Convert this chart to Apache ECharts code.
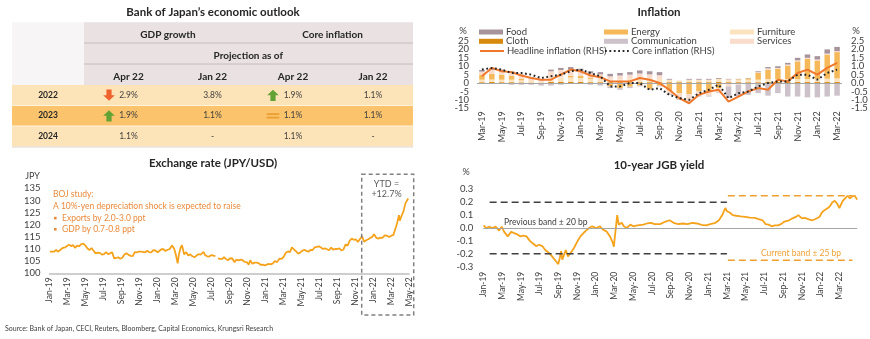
<!DOCTYPE html>
<html><head><meta charset="utf-8">
<script src="https://cdn.jsdelivr.net/npm/echarts/dist/echarts.min.js"></script>
<style>html,body{margin:0;padding:0;background:#fff}#c{width:870px;height:339px}</style>
</head><body><div id="c"></div>
<script>
const FONT = 'Lato, "Open Sans", sans-serif';

// ---------- Table: Bank of Japan's economic outlook ----------
const tableYears = ['2022', '2023', '2024'];
const gdpApr22 = ['2.9%', '1.9%', '1.1%'];
const gdpJan22 = ['3.8%', '1.1%', '-'];
const coreApr22 = ['1.9%', '1.1%', '1.1%'];
const coreJan22 = ['1.1%', '1.1%', '-'];
const gdpAprSignal = ['down', 'up', null];
const coreAprSignal = ['up', 'equal', null];

// ---------- Inflation ----------
const inflMonths = ['Mar-19','Apr-19','May-19','Jun-19','Jul-19','Aug-19','Sep-19','Oct-19','Nov-19','Dec-19','Jan-20','Feb-20','Mar-20','Apr-20','May-20','Jun-20','Jul-20','Aug-20','Sep-20','Oct-20','Nov-20','Dec-20','Jan-21','Feb-21','Mar-21','Apr-21','May-21','Jun-21','Jul-21','Aug-21','Sep-21','Oct-21','Nov-21','Dec-21','Jan-22','Feb-22','Mar-22'];
const inflLeftTicks = [-15, -10, -5, 0, 5, 10, 15, 20, 25];
const inflRightTicks = [-1.5, -1.0, -0.5, 0.0, 0.5, 1.0, 1.5, 2.0, 2.5];
const food = [1.0,1.2,1.0,0.8,0.8,0.5,0.3,1.0,1.2,1.5,1.3,1.2,1.3,1.5,1.5,1.5,1.8,1.8,1.8,0.5,0.0,0.5,0.5,0.5,0.5,0.3,0.2,0.2,0.5,0.8,1.0,1.0,1.5,2.0,2.0,2.5,2.5];
const energy = [3.0,3.5,3.0,2.2,0.8,0.2,-0.5,-0.5,0.0,1.0,1.5,0.8,-0.5,-2.0,-3.0,-2.2,-1.5,-3.5,-1.5,-4.5,-6.0,-6.5,-5.0,-5.0,-3.0,-0.5,0.3,0.8,4.0,5.5,6.0,8.0,10.5,12.0,11.0,14.3,15.6];
const furniture = [1.5,1.5,1.5,1.5,1.2,1.0,0.6,2.5,2.5,2.5,2.2,2.0,2.0,1.5,1.8,2.0,2.2,2.2,2.0,1.5,1.0,1.5,1.5,1.5,1.8,1.7,1.5,1.5,1.5,1.8,1.8,1.8,1.8,1.8,1.8,2.0,2.2];
const cloth = [0.5,0.6,0.5,0.5,0.4,0.3,0.2,0.8,0.8,0.8,0.7,0.5,0.5,0.5,0.5,0.5,0.5,0.5,0.5,0.5,0.5,0.5,0.5,0.5,0.7,0.5,0.5,0.5,0.5,0.6,0.6,0.6,0.6,0.6,0.6,0.6,0.6];
const communication = [-0.5,-0.3,-0.5,-1.0,-1.0,-1.0,-1.0,-1.0,-1.0,-0.5,-0.5,-1.0,-1.0,-1.0,-1.0,-0.8,-0.5,-0.5,-0.5,-0.5,-0.5,-0.5,-0.5,-0.5,-0.5,-7.0,-7.0,-7.0,-6.0,-7.5,-6.0,-8.0,-8.0,-8.5,-8.5,-8.0,-7.5];
const services = [1.8,2.2,2.0,2.0,1.8,1.3,0.9,3.7,4.5,3.7,2.8,2.5,2.7,2.0,2.2,2.5,3.0,2.5,2.2,-2.0,-3.5,-4.0,-2.5,-2.5,-2.5,-1.5,-1.0,0.0,0.5,0.8,0.6,0.6,0.6,0.6,0.6,0.6,0.6];
const headline = [0.4,0.9,0.7,0.65,0.45,0.3,0.2,0.2,0.5,0.8,0.7,0.45,0.35,0.1,0.1,0.1,0.3,0.2,0.0,-0.4,-0.9,-1.2,-0.7,-0.5,-0.4,-1.1,-0.8,-0.5,-0.3,-0.4,0.2,0.1,0.6,0.8,0.5,0.9,1.2];
const coreInfl = [0.8,0.9,0.8,0.6,0.6,0.5,0.3,0.4,0.5,0.7,0.8,0.6,0.4,-0.2,-0.2,0.0,0.0,-0.4,-0.3,-0.7,-0.9,-1.0,-0.6,-0.4,-0.1,-0.9,-0.6,-0.5,-0.2,0.0,0.1,0.1,0.5,0.5,0.2,0.6,0.8];

// ---------- Exchange rate ----------
const fxTicks = ['Jan-19','Mar-19','May-19','Jul-19','Sep-19','Nov-19','Jan-20','Mar-20','May-20','Jul-20','Sep-20','Nov-20','Jan-21','Mar-21','May-21','Jul-21','Sep-21','Nov-21','Jan-22','Mar-22','May-22'];
const fxYTicks = [100, 105, 110, 115, 120, 125, 130, 135];
const fxDates = ['2019-01-02','2019-01-08','2019-01-16','2019-01-24','2019-01-31','2019-02-08','2019-02-15','2019-02-22','2019-02-28','2019-03-06','2019-03-13','2019-03-20','2019-03-27','2019-04-03','2019-04-10','2019-04-17','2019-04-24','2019-05-01','2019-05-08','2019-05-15','2019-05-22','2019-05-29','2019-06-05','2019-06-12','2019-06-19','2019-06-26','2019-07-03','2019-07-10','2019-07-17','2019-07-24','2019-07-31','2019-08-07','2019-08-14','2019-08-21','2019-08-28','2019-09-04','2019-09-11','2019-09-18','2019-09-25','2019-10-02','2019-10-09','2019-10-16','2019-10-23','2019-10-30','2019-11-06','2019-11-13','2019-11-20','2019-11-27','2019-12-04','2019-12-11','2019-12-18','2019-12-25','2020-01-02','2020-01-08','2020-01-15','2020-01-22','2020-01-29','2020-02-05','2020-02-12','2020-02-19','2020-02-21','2020-02-26','2020-03-03','2020-03-09','2020-03-13','2020-03-19','2020-03-24','2020-03-31','2020-04-07','2020-04-14','2020-04-21','2020-04-28','2020-05-05','2020-05-12','2020-05-19','2020-05-26','2020-06-05','2020-06-10','2020-06-17','2020-06-24','2020-07-01','2020-07-08','2020-07-15','2020-07-20','2020-07-24','2020-07-31','2020-08-07','2020-08-14','2020-08-21','2020-08-28','2020-09-04','2020-09-11','2020-09-18','2020-09-25','2020-10-02','2020-10-09','2020-10-16','2020-10-23','2020-10-30','2020-11-06','2020-11-11','2020-11-18','2020-11-25','2020-12-02','2020-12-09','2020-12-16','2020-12-23','2020-12-31','2021-01-06','2021-01-13','2021-01-20','2021-01-27','2021-02-03','2021-02-10','2021-02-17','2021-02-24','2021-03-03','2021-03-10','2021-03-17','2021-03-24','2021-03-31','2021-04-07','2021-04-14','2021-04-21','2021-04-28','2021-05-05','2021-05-12','2021-05-19','2021-05-26','2021-06-02','2021-06-09','2021-06-16','2021-06-23','2021-06-30','2021-07-07','2021-07-14','2021-07-21','2021-07-28','2021-08-04','2021-08-11','2021-08-18','2021-08-25','2021-09-01','2021-09-08','2021-09-15','2021-09-22','2021-09-29','2021-10-06','2021-10-13','2021-10-20','2021-10-27','2021-11-03','2021-11-10','2021-11-17','2021-11-24','2021-12-01','2021-12-08','2021-12-15','2021-12-22','2021-12-29','2022-01-04','2022-01-12','2022-01-19','2022-01-26','2022-02-02','2022-02-09','2022-02-16','2022-02-23','2022-03-02','2022-03-09','2022-03-14','2022-03-18','2022-03-22','2022-03-28','2022-03-31','2022-04-06','2022-04-12','2022-04-19','2022-04-22','2022-04-28'];
const fxRates = [108.9,108.7,108.9,109.6,108.9,109.8,110.5,110.7,111.4,111.8,111.2,111.6,110.5,111.4,111.1,112.0,112.2,111.4,110.2,109.6,110.4,109.3,108.2,108.5,108.4,107.7,107.9,108.7,107.9,108.2,108.7,106.1,106.3,106.6,106.0,106.4,107.7,108.3,107.6,107.2,107.1,108.7,108.6,108.9,108.9,108.8,108.6,109.3,108.7,108.6,109.5,109.4,108.7,108.5,109.9,109.9,109.2,109.7,110.0,111.5,112.2,110.2,107.5,104.1,107.6,110.5,111.6,107.8,108.7,107.3,107.8,107.0,106.6,107.3,107.9,107.7,108.8,107.5,107.0,106.9,107.5,107.3,107.1,'-',106.1,105.9,105.9,106.6,105.8,105.4,106.2,106.1,104.6,105.6,105.3,105.6,105.4,104.7,104.6,103.6,105.4,103.9,104.4,104.4,104.2,103.5,103.6,103.3,103.6,103.9,103.7,104.1,105.0,104.6,106.0,105.9,106.9,108.5,109.0,108.7,110.7,109.8,109.0,108.1,108.6,109.3,109.7,109.2,108.9,109.6,109.6,110.7,110.9,111.1,110.6,110.0,110.3,109.9,109.5,110.6,109.8,110.0,110.0,110.3,109.4,109.8,111.9,111.4,113.4,114.3,113.8,114.0,112.9,114.1,115.2,113.0,113.6,114.0,114.5,115.0,116.1,114.6,114.3,114.7,114.6,115.6,115.5,114.9,115.5,115.8,117.7,119.2,120.8,123.9,121.7,123.7,125.4,128.9,128.5,130.8];

// ---------- 10-year JGB yield ----------
const jgbTicks = ['Jan-19','Mar-19','May-19','Jul-19','Sep-19','Nov-19','Jan-20','Mar-20','May-20','Jul-20','Sep-20','Nov-20','Jan-21','Mar-21','May-21','Jul-21','Sep-21','Nov-21','Jan-22','Mar-22'];
const jgbYTicks = [-0.3, -0.2, -0.1, 0.0, 0.1, 0.2, 0.3];
const jgbDates = ['2019-01-02','2019-01-10','2019-01-20','2019-01-31','2019-02-10','2019-02-20','2019-02-28','2019-03-08','2019-03-20','2019-03-31','2019-04-10','2019-04-20','2019-04-30','2019-05-10','2019-05-20','2019-05-31','2019-06-10','2019-06-20','2019-06-30','2019-07-10','2019-07-20','2019-07-31','2019-08-08','2019-08-15','2019-08-25','2019-09-01','2019-09-06','2019-09-10','2019-09-14','2019-09-25','2019-10-02','2019-10-12','2019-10-22','2019-11-03','2019-11-12','2019-11-27','2019-12-10','2019-12-20','2020-01-03','2020-01-15','2020-01-25','2020-02-05','2020-02-16','2020-02-25','2020-02-28','2020-03-04','2020-03-10','2020-03-15','2020-03-25','2020-04-01','2020-04-10','2020-04-22','2020-05-01','2020-05-15','2020-06-03','2020-06-15','2020-06-28','2020-07-10','2020-07-28','2020-08-15','2020-08-28','2020-09-10','2020-09-25','2020-10-10','2020-10-25','2020-11-10','2020-11-25','2020-12-10','2020-12-25','2021-01-08','2021-01-25','2021-02-05','2021-02-15','2021-02-24','2021-03-01','2021-03-10','2021-03-20','2021-04-01','2021-04-15','2021-04-30','2021-05-15','2021-05-31','2021-06-10','2021-06-25','2021-07-05','2021-07-15','2021-07-25','2021-08-05','2021-08-15','2021-08-25','2021-09-05','2021-09-20','2021-10-01','2021-10-12','2021-10-20','2021-11-01','2021-11-10','2021-11-25','2021-12-05','2021-12-15','2021-12-28','2022-01-05','2022-01-15','2022-01-25','2022-02-01','2022-02-08','2022-02-15','2022-02-22','2022-03-01','2022-03-05','2022-03-12','2022-03-20','2022-03-28','2022-04-05','2022-04-12','2022-04-20','2022-04-28'];
const jgbYield = [0.02,0.0,0.01,0.0,0.01,-0.02,0.01,-0.03,-0.065,-0.03,-0.04,-0.05,-0.065,-0.06,-0.065,-0.10,-0.12,-0.14,-0.13,-0.14,-0.17,-0.19,-0.21,-0.23,-0.26,-0.28,-0.23,-0.18,-0.245,-0.17,-0.22,-0.19,-0.155,-0.10,-0.065,-0.026,0.0,0.013,0.0,0.013,-0.013,-0.026,-0.065,-0.116,-0.145,-0.03,0.10,0.026,0.04,0.013,0.0,0.026,0.013,0.02,0.026,0.035,0.04,0.03,0.03,0.05,0.06,0.04,0.03,0.035,0.03,0.04,0.035,0.025,0.02,0.03,0.04,0.06,0.10,0.155,0.13,0.12,0.10,0.095,0.09,0.086,0.08,0.078,0.07,0.06,0.03,0.026,0.013,0.02,0.02,0.03,0.05,0.06,0.075,0.086,0.10,0.075,0.078,0.065,0.06,0.07,0.085,0.12,0.14,0.155,0.17,0.20,0.21,0.19,0.155,0.17,0.21,0.23,0.25,0.23,0.245,0.25,0.22];
const prevBand = 0.20, prevBandFrom = '2019-01-22', prevBandTo = '2021-03-01';
const curBand = 0.25, curBandFrom = '2021-03-04', curBandTo = '2022-04-13';

// month index since Jan 2019 (the value axes are indexed in months)
function mi(s) {
  const p = s.split('-').map(Number);
  const dim = new Date(p[0], p[1], 0).getDate();
  return (p[0] - 2019) * 12 + (p[1] - 1) + (p[2] - 1) / dim;
}
const monthIdx = function (arr) { return arr.map(function (_, i) { return i * 2; }); };

// ---------- graphic helpers ----------
const G = [];
function txt(x, y, text, size, opt) {
  opt = opt || {};
  G.push({ type: 'text', x: x, y: y, silent: true, z: 10,
    style: { text: text, font: (opt.bold ? 'bold ' : '') + size + 'px ' + FONT,
      fill: opt.color || '#262626', align: opt.align || 'center', verticalAlign: 'middle' } });
}
function rect(x, y, w, h, fill, extra) {
  G.push(Object.assign({ type: 'rect', silent: true, shape: { x: x, y: y, width: w, height: h }, style: { fill: fill } }, extra || {}));
}
function hline(x1, x2, y, color, w) {
  G.push({ type: 'line', silent: true, shape: { x1: x1, y1: y, x2: x2, y2: y }, style: { stroke: color, lineWidth: w || 1 } });
}
function arrow(cx, yt, yb, dir, color) {
  const hw = 5.8, sw = 2.6, hh = 5.5;
  let pts;
  if (dir === 'up') pts = [[cx, yt], [cx + hw, yt + hh], [cx + sw, yt + hh], [cx + sw, yb], [cx - sw, yb], [cx - sw, yt + hh], [cx - hw, yt + hh]];
  else pts = [[cx, yb], [cx + hw, yb - hh], [cx + sw, yb - hh], [cx + sw, yt], [cx - sw, yt], [cx - sw, yb - hh], [cx - hw, yb - hh]];
  G.push({ type: 'polygon', silent: true, shape: { points: pts }, style: { fill: color } });
}

// Table layout
const tx0 = 12, txh = 84, tx1 = 413;
const rowEdges = [22.3, 43, 64, 85, 105.5, 126, 146.5];
const colX = { year: 48, gdpApr: 128.5, gdpJan: 212.5, coreApr: 293, coreJan: 373 };
rect(tx0, rowEdges[0], txh - tx0, rowEdges[3] - rowEdges[0], '#f7f5f5');
rect(txh, rowEdges[0], tx1 - txh, rowEdges[3] - rowEdges[0], '#e9e1e2');
hline(txh, tx1, rowEdges[1], '#c6bcbe', 1);
hline(txh, tx1, rowEdges[2], '#c6bcbe', 1);
const rowFill = ['#fde4b8', '#fbc46c', '#fde4b8'];
for (let i = 0; i < 3; i++) rect(tx0, rowEdges[3 + i], tx1 - tx0, rowEdges[4 + i] - rowEdges[3 + i], rowFill[i]);
hline(tx0, tx1, rowEdges[4], '#fff3dc', 1);
hline(tx0, tx1, rowEdges[5], '#fff3dc', 1);
hline(tx0, tx1, rowEdges[6] + 0.5, '#dcd6d0', 1);

txt(213, 12, 'Bank of Japan\u2019s economic outlook', 11.5, { bold: true });
txt(168, 34.3, 'GDP growth', 10, { bold: true });
txt(332.5, 34.3, 'Core inflation', 10, { bold: true });
txt(248.3, 55.3, 'Projection as of', 10, { bold: true });
txt(colX.gdpApr, 76.3, 'Apr 22', 10, { bold: true });
txt(colX.gdpJan, 76.3, 'Jan 22', 10, { bold: true });
txt(colX.coreApr, 76.3, 'Apr 22', 10, { bold: true });
txt(colX.coreJan, 76.3, 'Jan 22', 10, { bold: true });
for (let i = 0; i < 3; i++) {
  const yc = (rowEdges[3 + i] + rowEdges[4 + i]) / 2;
  txt(colX.year, yc, tableYears[i], 8.5, { bold: true });
  txt(colX.gdpApr, yc, gdpApr22[i], 8.5, { color: '#404040' });
  txt(colX.gdpJan, yc, gdpJan22[i], 8.5, { color: '#404040' });
  txt(colX.coreApr, yc, coreApr22[i], 8.5, { color: '#404040' });
  txt(colX.coreJan, yc, coreJan22[i], 8.5, { color: '#404040' });
  [[gdpAprSignal[i], 109], [coreAprSignal[i], 273]].forEach(function (s) {
    if (s[0] === 'up') arrow(s[1], yc - 5.6, yc + 5.8, 'up', '#63a234');
    else if (s[0] === 'down') arrow(s[1], yc - 5.8, yc + 5.6, 'down', '#f0622d');
    else if (s[0] === 'equal') { rect(s[1] - 6.3, yc - 2.6, 12.6, 1.9, '#eba034'); rect(s[1] - 6.3, yc + 0.9, 12.6, 1.9, '#eba034'); }
  });
}

// Chart titles & annotations
txt(659, 12, 'Inflation', 11.5, { bold: true });
txt(463, 31, '%', 9.5, { color: '#404040' });
txt(856, 31, '%', 9.5, { color: '#404040' });
txt(213, 162.8, 'Exchange rate (JPY/USD)', 11.5, { bold: true });
txt(32.5, 176, 'JPY', 9, { color: '#404040' });
txt(659, 165, '10-year JGB yield', 11.5, { bold: true });
txt(466, 172.5, '%', 9, { color: '#404040' });

const annoColor = '#e98b3c';
txt(53, 194.3, 'BOJ study:', 8.5, { align: 'left', color: annoColor });
txt(53, 206.3, 'A 10%-yen depreciation shock is expected to raise', 8.5, { align: 'left', color: annoColor });
rect(54, 216.8, 2.6, 2.6, annoColor);
txt(62, 218.2, 'Exports by 2.0-3.0 ppt', 8.5, { align: 'left', color: annoColor });
rect(54, 228, 2.6, 2.6, annoColor);
txt(62, 229.4, 'GDP by 0.7-0.8 ppt', 8.5, { align: 'left', color: annoColor });

G.push({ type: 'rect', silent: true, z: 5, shape: { x: 361.7, y: 174.3, width: 52, height: 140.7 },
  style: { fill: 'none', stroke: '#808080', lineWidth: 1.5, lineDash: [4, 3] } });
txt(386.5, 184, 'YTD =', 9, { color: '#595959' });
txt(386.5, 194.3, '+12.7%', 9, { color: '#595959' });

txt(504, 222, 'Previous band \u00b1 20 bp', 8.5, { align: 'left', color: '#404040' });
txt(761, 253.5, 'Current band \u00b1 25 bp', 8.5, { align: 'left', color: '#eea236' });

txt(5, 328.5, 'Source: Bank of Japan, CECI, Reuters, Bloomberg, Capital Economics, Krungsri Research', 7, { align: 'left', color: '#404040' });

// ---------- chart option ----------
const axisLabelBase = { color: '#404040', fontFamily: FONT, hideOverlap: false, showMinLabel: true, showMaxLabel: true };
const barColors = { Food: '#a6939b', Energy: '#f6b95a', Furniture: '#fce3c0', Cloth: '#d8890f', Communication: '#cdc2c9', Services: '#f9dccb' };
const barData = { Cloth: cloth, Furniture: furniture, Energy: energy, Services: services, Food: food, Communication: communication };
const barOrder = ['Cloth', 'Furniture', 'Energy', 'Services', 'Food', 'Communication'];

const series = barOrder.map(function (name, k) {
  const s = { name: name, type: 'bar', stack: 'infl', xAxisIndex: 0, yAxisIndex: 0, barWidth: 5.5,
    itemStyle: { color: barColors[name] }, data: barData[name] };
  if (k === 0) s.markLine = { silent: true, symbol: 'none', label: { show: false }, animation: false,
    lineStyle: { color: '#a6a6a6', width: 1, type: 'solid' }, data: [{ yAxis: 0 }] };
  return s;
});
series.push({ name: 'Headline inflation (RHS)', type: 'line', xAxisIndex: 0, yAxisIndex: 1, symbol: 'none',
  lineStyle: { color: '#f0782c', width: 2 }, itemStyle: { color: '#f0782c' }, data: headline, z: 5 });
series.push({ name: 'Core inflation (RHS)', type: 'line', xAxisIndex: 0, yAxisIndex: 1, symbol: 'none',
  lineStyle: { color: '#262626', width: 2, type: [1.8, 2.6] }, itemStyle: { color: '#262626' }, data: coreInfl, z: 6 });
series.push({ name: 'fx', type: 'line', xAxisIndex: 1, yAxisIndex: 2, symbol: 'none', connectNulls: false,
  lineStyle: { color: '#f5a31c', width: 1.8 }, data: fxDates.map(function (d, i) { return [mi(d), fxRates[i]]; }) });
series.push({ name: 'jgb', type: 'line', xAxisIndex: 2, yAxisIndex: 3, symbol: 'none',
  lineStyle: { color: '#f5a31c', width: 1.8 }, data: jgbDates.map(function (d, i) { return [mi(d), jgbYield[i]]; }),
  markLine: { silent: true, symbol: 'none', label: { show: false }, animation: false,
    lineStyle: { color: '#a6a6a6', width: 1, type: 'solid' }, data: [{ yAxis: 0 }] } });
[[prevBand, prevBandFrom, prevBandTo, '#404040'], [-prevBand, prevBandFrom, prevBandTo, '#404040'],
 [curBand, curBandFrom, curBandTo, '#f0a030'], [-curBand, curBandFrom, curBandTo, '#f0a030']].forEach(function (b) {
  series.push({ type: 'line', xAxisIndex: 2, yAxisIndex: 3, symbol: 'none', silent: true,
    lineStyle: { color: b[3], width: 1.6, type: [7, 4] }, data: [[mi(b[1]), b[0]], [mi(b[2]), b[0]]] });
});

const legendPos = [
  ['Food', 479, 32], ['Energy', 604, 32], ['Furniture', 730, 32],
  ['Cloth', 479, 41.3], ['Communication', 604, 41.3], ['Services', 730, 41.3],
  ['Headline inflation (RHS)', 479, 51], ['Core inflation (RHS)', 604, 51]
];
const legends = legendPos.map(function (l) {
  const isLine = l[0].indexOf('RHS') >= 0;
  const lg = { data: [l[0]], left: l[1], top: l[2] - 5, padding: 0, itemWidth: 24, itemHeight: isLine ? 10 : 5,
    selectedMode: false,
    textStyle: { fontSize: 9.5, lineHeight: 10, color: '#404040', fontFamily: FONT, padding: [0, 0, 0, -2] } };
  if (isLine) lg.itemStyle = { opacity: 0 };
  else lg.icon = 'rect';
  return lg;
});

const hiddenAxis = { axisLine: { show: false }, axisTick: { show: false }, splitLine: { show: false }, axisLabel: { show: false } };

const option = {
  animation: false,
  backgroundColor: '#ffffff',
  textStyle: { fontFamily: FONT },
  legend: legends,
  grid: [
    { left: 477, top: 41, width: 365, height: 67.3, outerBoundsMode: 'none', containLabel: false },
    { left: 49.5, top: 188.3, width: 359.6, height: 85, outerBoundsMode: 'none', containLabel: false },
    { left: 483.3, top: 189.3, width: 373.9, height: 77.4, outerBoundsMode: 'none', containLabel: false }
  ],
  xAxis: [
    { gridIndex: 0, type: 'category', data: inflMonths, boundaryGap: true,
      axisLine: { show: false }, axisTick: { show: false }, splitLine: { show: false },
      axisLabel: Object.assign({}, axisLabelBase, { rotate: 90, fontSize: 9, interval: 1, margin: 3 }) },
    { gridIndex: 1, type: 'value', min: 0, max: 40, interval: 2,
      axisLine: { show: true, lineStyle: { color: '#bfbfbf', width: 1.5 } }, axisTick: { show: false }, splitLine: { show: false },
      axisLabel: Object.assign({}, axisLabelBase, { rotate: 90, fontSize: 8.5, margin: 4, customValues: monthIdx(fxTicks),
        formatter: function (v) { return fxTicks[Math.round(v / 2)] || ''; } }) },
    { gridIndex: 2, type: 'value', min: 0, max: 39.9, interval: 2,
      axisLine: { show: false }, axisTick: { show: false }, splitLine: { show: false },
      axisLabel: Object.assign({}, axisLabelBase, { rotate: 90, fontSize: 8.5, margin: 5, customValues: monthIdx(jgbTicks),
        formatter: function (v) { return jgbTicks[Math.round(v / 2)] || ''; } }) }
  ],
  yAxis: [
    Object.assign({ gridIndex: 0, type: 'value', min: -15, max: 25, interval: 5, position: 'left' }, hiddenAxis),
    Object.assign({ gridIndex: 0, type: 'value', min: -1.5, max: 2.5, interval: 0.5, position: 'right' }, hiddenAxis),
    { gridIndex: 1, type: 'value', min: 100, max: 135, interval: 5,
      axisLine: { show: false }, axisTick: { show: false }, splitLine: { show: false },
      axisLabel: Object.assign({}, axisLabelBase, { fontSize: 9.5, margin: 9, customValues: fxYTicks }) },
    Object.assign({ gridIndex: 2, type: 'value', min: -0.3, max: 0.3, interval: 0.1 }, hiddenAxis)
  ],
  series: series,
  graphic: G
};

const chart = echarts.init(document.getElementById('c'), null, { renderer: 'canvas' });
chart.setOption(option);

// Tick labels for the densely ticked value axes, positioned through the axes' own scales
function axisTickLabels(yAxisIndex, values, x, align, fmt) {
  values.forEach(function (v) {
    const y = chart.convertToPixel({ yAxisIndex: yAxisIndex }, v);
    txt(x, y, fmt(v), 9.5, { align: align, color: '#404040' });
  });
}
const g0 = chart.getModel().getComponent('grid', 0).coordinateSystem.getRect();
const g2 = chart.getModel().getComponent('grid', 2).coordinateSystem.getRect();
axisTickLabels(0, inflLeftTicks, g0.x - 8, 'right', function (v) { return String(v); });
axisTickLabels(1, inflRightTicks, g0.x + g0.width + 9, 'left', function (v) { return v.toFixed(1); });
axisTickLabels(3, jgbYTicks, g2.x - 10, 'right', function (v) { return v.toFixed(1); });
chart.setOption({ graphic: G });
</script>
</body></html>
